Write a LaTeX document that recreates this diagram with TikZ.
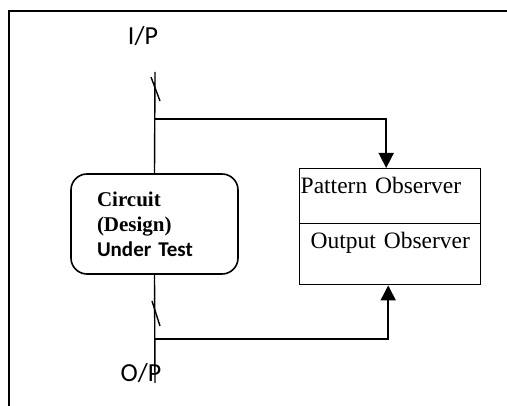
\documentclass[tikz,border=0pt]{standalone}
\usepackage{fontspec}
\setmainfont{Liberation Serif}
\newfontfamily\calibri{Carlito}
\usepackage{tikz}
\usetikzlibrary{positioning,arrows.meta,calc}

\begin{document}
\begin{tikzpicture}[
  x=1pt, y=-1pt,
  wire/.style={draw=black, line width=1.4pt},
  feed/.style={
    -{Triangle[length=15pt,width=15pt]},
    draw=black, line width=1.6pt
  },
  cut/.style={
    rectangle, rounded corners=16pt,
    draw=black, line width=1.6pt,
    minimum width=167pt, minimum height=100pt,
    text width=115pt, inner xsep=26pt, align=left,
    font=\fontsize{21}{25}\selectfont\bfseries
  },
  % observer compartments: text sits near the top
  obs/.style={
    rectangle, draw=black, line width=1.4pt,
    text width=179pt, inner xsep=1pt, inner ysep=0pt,
    align=left, text height=25pt, anchor=north west,
    font=\fontsize{23.5}{28}\selectfont
  },
  port/.style={font=\calibri\fontsize{26}{30}\selectfont}
]
\useasboundingbox (0,0) rectangle (507,406);

% ---- frame ----------------------------------------------------------------
\draw[line width=1.8pt] (9,406) -- (9,11) -- (507,11);

% ---- nodes ----------------------------------------------------------------
\node[port] (ip) at (143,36) {I/P};
\node[port] (op) at (141,373) {O/P};

\node[cut] (dut) at (154.5,224) {
  Circuit\\
  (Design)\\
  {\calibri Under Test}
};

\node[obs, text depth=30pt] (pat) at (299,168) {Pattern Observer};
\node[obs, text depth=36pt] (out) at (299,223) {\hspace*{10pt}Output Observer};

\coordinate (ipend) at (155,72);
\coordinate (optap) at (155,383);
\coordinate (tapin) at (155,119);
\coordinate (tapout) at (155,339);

% ---- wires ----------------------------------------------------------------
\draw[wire] (ipend) -- (dut.north);
\draw[wire] (dut.south) -- (optap);
\draw[wire] (151,77) -- (160,101);
\draw[wire] (152,301) -- (160,326);

\draw[feed] (tapin) -| ([xshift=-4pt]pat.north);
\draw[feed] (tapout) -| ([xshift=-2pt]out.south);

\end{tikzpicture}
\end{document}
